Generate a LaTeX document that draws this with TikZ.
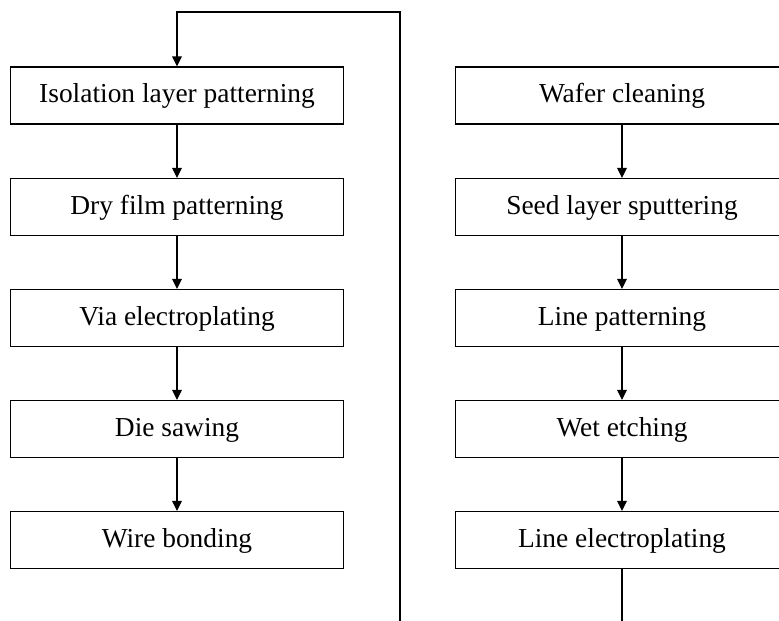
\documentclass[tikz,border=0pt]{standalone}
\usepackage{fontspec}
\setmainfont{Liberation Serif}
\usetikzlibrary{positioning,arrows.meta}

\begin{document}
\begin{tikzpicture}[
    x=0.02cm, y=-0.02cm,
    font=\fontsize{15.6}{18}\selectfont,
    stepbox/.style={draw,line width=0.6pt,minimum width=6.68cm,minimum height=1.14cm,inner sep=0pt,text height=2.3ex,text depth=0.5ex},
    line/.style={line width=0.6pt},
    flow/.style={line width=0.6pt,-{Triangle[length=0.2cm,width=0.19cm]}}
]
\clip (0,0) rectangle (779,621);
\useasboundingbox (0,0) rectangle (779,621);

% Left column
\node[stepbox] (iso) at (177,95.5) {Isolation layer patterning};
\node[stepbox] (dry) at (177,207) {Dry film patterning};
\node[stepbox] (via) at (177,318) {Via electroplating};
\node[stepbox] (die) at (177,429) {Die sawing};
\node[stepbox] (wire) at (177,540) {Wire bonding};

% Right column
\node[stepbox] (wafer) at (622,95.5) {Wafer cleaning};
\node[stepbox] (seed) at (622,207) {Seed layer sputtering};
\node[stepbox] (linepat) at (622,318) {Line patterning};
\node[stepbox] (wet) at (622,429) {Wet etching};
\node[stepbox] (lineel) at (622,540) {Line electroplating};

\draw[flow] (iso) -- (dry);
\draw[flow] (dry) -- (via);
\draw[flow] (via) -- (die);
\draw[flow] (die) -- (wire);

\draw[flow] (wafer) -- (seed);
\draw[flow] (seed) -- (linepat);
\draw[flow] (linepat) -- (wet);
\draw[flow] (wet) -- (lineel);

% Return path
\coordinate (outbot) at (lineel.south |- 0,625);
\coordinate (retbot) at (400,625);
\coordinate (rettop) at (400,12);
\coordinate (retleft) at (iso.north |- 0,12);

\draw[line] (lineel) -- (outbot);
\draw[flow] (retbot) -- (rettop) -- (retleft) -- (iso);

\end{tikzpicture}
\end{document}
